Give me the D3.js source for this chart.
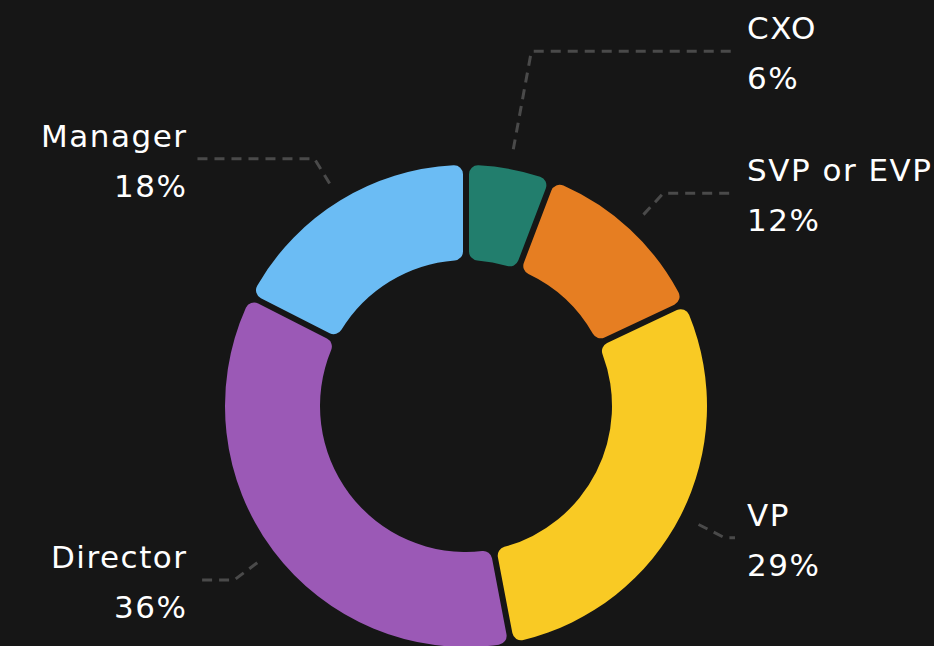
<!DOCTYPE html>
<html>
<head>
<meta charset="utf-8">
<script src="https://cdn.jsdelivr.net/npm/d3@7"></script>
<style>
  html, body { margin: 0; padding: 0; background: #161616; }
  svg { display: block; }
</style>
</head>
<body>
<svg id="chart" width="934" height="646"></svg>
<script>
// ---- data ----
const categories = ["CXO", "SVP or EVP", "VP", "Director", "Manager"];
const values = [5.8, 12.2, 29.0, 35.5, 17.5];
const percentLabels = ["6%", "12%", "29%", "36%", "18%"];
const colors = ["#227e6d", "#e67e22", "#f9ca24", "#9b59b6", "#6bbcf4"];

// ---- layout ----
const W = 934, H = 646;
const cx = 466, cy = 406;
const rOuter = 241, rInner = 146;
const svg = d3.select("#chart");
svg.append("rect").attr("width", W).attr("height", H).attr("fill", "#161616");

const data = categories.map((c, i) => ({ name: c, value: values[i], label: percentLabels[i], color: colors[i] }));

const pie = d3.pie().sort(null).value(d => d.value);
const arcs = pie(data);

const arc = d3.arc()
  .innerRadius(rInner)
  .outerRadius(rOuter)
  .cornerRadius(9)
  .padAngle(6 / 200)
  .padRadius(200);

const g = svg.append("g").attr("transform", `translate(${cx},${cy})`);

g.selectAll("path.slice")
  .data(arcs)
  .join("path")
  .attr("class", "slice")
  .attr("d", arc)
  .attr("fill", d => d.data.color);

// ---- label layout ----
const rStart = 261, rKnee = 290;
const items = arcs.map(a => {
  const mid = (a.startAngle + a.endAngle) / 2;
  const sx = Math.sin(mid), sy = -Math.cos(mid);
  return {
    d: a.data, mid, sx, sy,
    right: sx >= 0,
    x0: sx * rStart, y0: sy * rStart,
    ky: sy * rKnee
  };
});

// resolve overlaps on each side (push upwards)
const minGap = 142;
["right", "left"].forEach(side => {
  const list = items.filter(it => (side === "right") === it.right).sort((a, b) => b.ky - a.ky);
  for (let i = 1; i < list.length; i++) {
    if (list[i - 1].ky - list[i].ky < minGap) list[i].ky = list[i - 1].ky - minGap;
  }
});

items.forEach(it => {
  const t = it.ky / it.sy;
  it.kx = it.sx * t;
});

const rightTextX = 747 - cx, leftTextX = 186 - cx;
const rightLineX = 735 - cx, leftLineX = 196 - cx;

g.selectAll("path.leader")
  .data(items)
  .join("path")
  .attr("class", "leader")
  .attr("fill", "none")
  .attr("stroke", "#4a4a4a")
  .attr("stroke-width", 3)
  .attr("stroke-dasharray", "10,7")
  .attr("d", it => {
    const ex = it.right ? rightLineX : leftLineX;
    return d3.line()([[it.x0, it.y0], [it.kx, it.ky], [ex, it.ky]]);
  });

const labels = g.selectAll("g.label")
  .data(items)
  .join("g")
  .attr("class", "label");

const fontFamily = "'DejaVu Sans', 'Open Sans', sans-serif";

[[it => it.d.name, -12], [it => it.d.label, 38]].forEach(([txt, dy]) => {
  labels.append("text")
    .attr("x", it => it.right ? rightTextX : leftTextX + 1.5)
    .attr("y", it => it.ky + dy)
    .attr("text-anchor", it => it.right ? "start" : "end")
    .attr("fill", "#ffffff")
    .style("font-family", fontFamily)
    .style("font-size", "31px")
    .style("letter-spacing", "1.5px")
    .text(txt);
});
</script>
</body>
</html>
